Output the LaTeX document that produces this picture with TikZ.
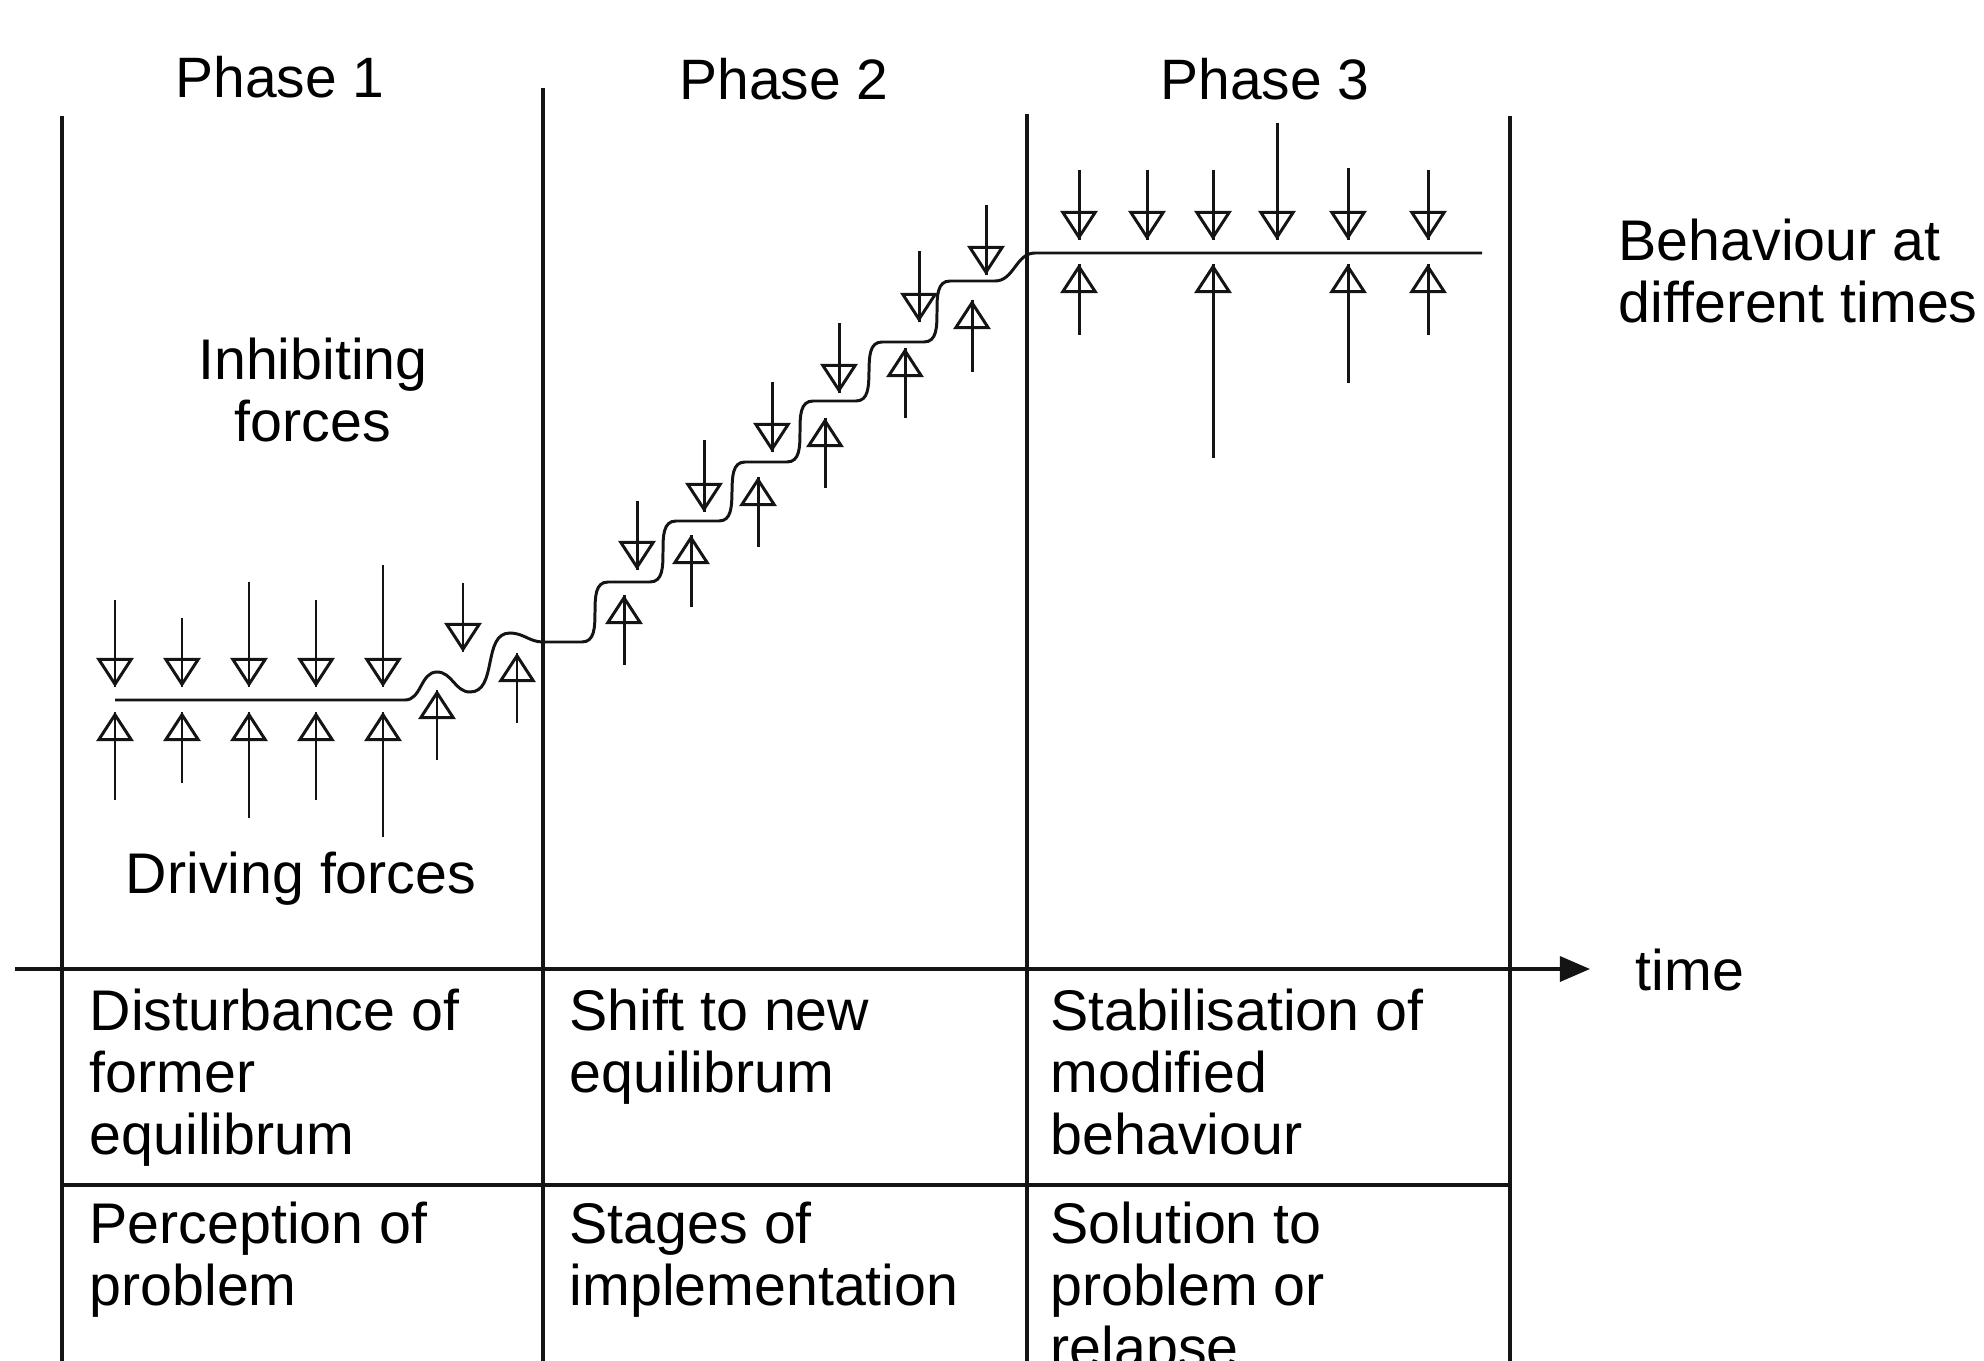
\documentclass[tikz,border=0pt]{standalone}
\usepackage{fontspec}
\setmainfont{Liberation Sans}
\usetikzlibrary{arrows.meta}
\usetikzlibrary{positioning}

\begin{document}
\begin{tikzpicture}[x=0.01cm, y=-0.01cm]

	\definecolor{inkcolor}{rgb}{0.08,0.08,0.08}

	\tikzset{
		bodytxt/.style={inner sep=0pt, font=\fontsize{16.3pt}{17.6pt}\selectfont},
		phaselbl/.style={inner sep=0pt, anchor=base, font=\fontsize{16.2pt}{17pt}\selectfont},
		colline/.style={draw=inkcolor, line width=0.95pt},
		curveline/.style={draw=inkcolor, line width=0.85pt},
		forcearrow/.style={draw=inkcolor, line width=0.85pt, postaction={draw, -{Triangle[open, width=0.37cm, length=0.29cm]}}}
	}

	\useasboundingbox (0,0) rectangle (1984,1361);

	% columns and time axis
	\foreach \x/\t in {62/116, 543/88, 1027/114, 1510/116}
		\draw[colline] (\x,\t) -- (\x,1361);
	\draw[colline] (62,1185) -- (1510,1185);

	\coordinate (axisstart) at (15,969);
	\coordinate (axisend) at (1590,969);
	\draw[colline, -{Triangle[width=0.25cm, length=0.3cm]}] (axisstart) -- (axisend);

	\node (phase1)[phaselbl] at (280,98) {Phase 1};
	\node (phase2)[phaselbl] at (784,100) {Phase 2};
	\node (phase3)[phaselbl] at (1265,100) {Phase 3};

	% behaviour line
	\draw[curveline] (115,700) -- (405,700)
		to[out=0,in=180] (437,672) to[out=0,in=180] (470,692)
		to[out=0,in=180] (510,633) to[out=0,in=180] (543,642) -- (582,642)
		to[out=0,in=180] (608,582) -- (650,582)
		to[out=0,in=180] (676,521) -- (719,521)
		to[out=0,in=180] (745,462) -- (787,462)
		to[out=0,in=180] (813,401) -- (856,401)
		to[out=0,in=180] (882,342) -- (924,342)
		to[out=0,in=180] (950,281) -- (995,281)
		to[out=0,in=180] (1035,253) -- (1482,253);

	% inhibiting forces (from above)
	\foreach \x/\a/\b in {115/600/687, 182/618/687, 249/582/687, 316/600/687, 383/565/687, 463/583/652,
		637/501/570, 704/440/512, 772/382/452, 839/323/393, 919/251/322, 986/205/275,
		1079/170/240, 1147/170/240, 1213/170/240, 1277/123/240, 1348/168/240, 1428/170/240}
		\draw[forcearrow] (\x,\a) -- (\x,\b);

	% driving forces (from below)
	\foreach \x/\a/\b in {115/800/712, 182/783/712, 249/818/712, 316/800/712, 383/837/712, 437/760/690, 517/723/653,
		624/665/595, 691/607/535, 758/547/477, 825/488/418, 905/418/348, 972/372/300,
		1079/335/264, 1213/458/264, 1348/383/264, 1428/335/264}
		\draw[forcearrow] (\x,\a) -- (\x,\b);

	\node (inhib)[bodytxt, align=center, anchor=north] at (313,337) {Inhibiting\\forces};
	\node (driving)[bodytxt, anchor=base] at (301,893) {Driving forces};
	\node (behav)[bodytxt, align=left, anchor=north west] at (1618,218) {Behaviour at\\different times};
	\node (timelbl)[bodytxt, anchor=base west] at (1635,990) {time};

	% table below the axis
	\node (dist)[bodytxt, align=left, anchor=north west] at (89,988) {Disturbance of\\former\\equilibrum};
	\node (shift)[bodytxt, align=left, anchor=north west] at (569,988) {Shift to new\\equilibrum};
	\node (stab)[bodytxt, align=left, anchor=north west] at (1050,988) {Stabilisation of\\modified\\behaviour};
	\node (perc)[bodytxt, align=left, anchor=north west] at (89,1201) {Perception of\\problem};
	\node (stages)[bodytxt, align=left, anchor=north west] at (569,1201) {Stages of\\implementation};
	\node (sol)[bodytxt, align=left, anchor=north west] at (1050,1201) {Solution to\\problem or\\relapse};

\end{tikzpicture}
\end{document}
